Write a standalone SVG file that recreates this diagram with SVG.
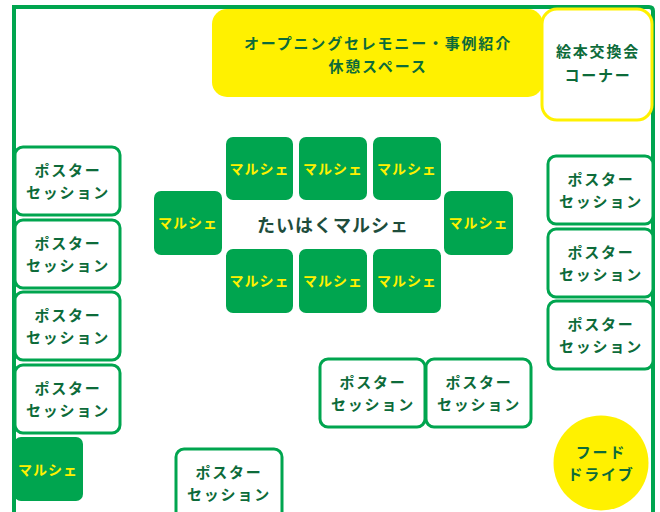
<svg xmlns="http://www.w3.org/2000/svg" width="660" height="512" viewBox="0 0 660 512">
<style>
text{font-family:"Noto Sans CJK JP","Noto Sans",sans-serif;font-weight:700;text-anchor:middle;dominant-baseline:central}
.t{fill:#0d6b3a;font-size:15px;letter-spacing:1.8px}
.poster rect{fill:#fff;stroke:#00a54f;stroke-width:3}
.m rect{fill:#00a54f}
.m text{fill:#fff100;font-size:14px;letter-spacing:1px}
.frame{fill:none;stroke:#00a54f;stroke-width:4}
</style>
<rect width="660" height="512" fill="#fff"/>
<path class="frame" d="M14,514 V7 H649 Q653,7 653,11 V514"/>
<g id="opening"><rect x="212" y="9" width="331" height="88" rx="15" fill="#fff100"/><text class="t" x="378" y="42.5">オープニングセレモニー・事例紹介</text><text class="t" x="378" y="65.5">休憩スペース</text></g>
<g id="ehon"><rect x="542" y="9" width="110" height="111" rx="15" fill="#fff" stroke="#fff100" stroke-width="3"/><text class="t" x="598" y="50.5">絵本交換会</text><text class="t" x="598" y="74.5">コーナー</text></g>
<g id="p-l1" class="poster"><rect x="15" y="147" width="105" height="68" rx="8"/><text class="t" x="68" y="169.5">ポスター</text><text class="t" x="68" y="191.5">セッション</text></g>
<g id="p-l2" class="poster"><rect x="15" y="220" width="105" height="68" rx="8"/><text class="t" x="68" y="242.5">ポスター</text><text class="t" x="68" y="264.5">セッション</text></g>
<g id="p-l3" class="poster"><rect x="15" y="292" width="105" height="68" rx="8"/><text class="t" x="68" y="314.5">ポスター</text><text class="t" x="68" y="336.5">セッション</text></g>
<g id="p-l4" class="poster"><rect x="15" y="365" width="105" height="68" rx="8"/><text class="t" x="68" y="387.5">ポスター</text><text class="t" x="68" y="409.5">セッション</text></g>
<g id="m-l" class="m"><rect x="14" y="437" width="69" height="64" rx="7"/><text x="48" y="469">マルシェ</text></g>
<g id="p-b" class="poster"><rect x="176" y="449" width="106" height="75" rx="8"/><text class="t" x="229" y="471.5">ポスター</text><text class="t" x="229" y="493.5">セッション</text></g>
<g id="p-r1" class="poster"><rect x="548" y="156" width="105" height="68" rx="8"/><text class="t" x="601" y="178.5">ポスター</text><text class="t" x="601" y="200.5">セッション</text></g>
<g id="p-r2" class="poster"><rect x="548" y="229" width="105" height="68" rx="8"/><text class="t" x="601" y="251.5">ポスター</text><text class="t" x="601" y="273.5">セッション</text></g>
<g id="p-r3" class="poster"><rect x="548" y="301" width="105" height="68" rx="8"/><text class="t" x="601" y="323.5">ポスター</text><text class="t" x="601" y="345.5">セッション</text></g>
<g id="p-m1" class="poster"><rect x="320" y="359" width="105" height="68" rx="8"/><text class="t" x="373" y="381.5">ポスター</text><text class="t" x="373" y="403.5">セッション</text></g>
<g id="p-m2" class="poster"><rect x="426" y="359" width="105" height="68" rx="8"/><text class="t" x="479" y="381.5">ポスター</text><text class="t" x="479" y="403.5">セッション</text></g>
<g id="m-t1" class="m"><rect x="226" y="137" width="67" height="63" rx="7"/><text x="259.5" y="168">マルシェ</text></g>
<g id="m-t2" class="m"><rect x="299" y="137" width="68" height="63" rx="7"/><text x="333" y="168">マルシェ</text></g>
<g id="m-t3" class="m"><rect x="373" y="137" width="68" height="63" rx="7"/><text x="407" y="168">マルシェ</text></g>
<g id="m-b1" class="m"><rect x="226" y="249" width="67" height="64" rx="7"/><text x="259.5" y="280">マルシェ</text></g>
<g id="m-b2" class="m"><rect x="299" y="249" width="68" height="64" rx="7"/><text x="333" y="280">マルシェ</text></g>
<g id="m-b3" class="m"><rect x="373" y="249" width="68" height="64" rx="7"/><text x="407" y="280">マルシェ</text></g>
<g id="m-cl" class="m"><rect x="154" y="191" width="68" height="64" rx="7"/><text x="188" y="222">マルシェ</text></g>
<g id="m-cr" class="m"><rect x="444" y="191" width="69" height="64" rx="7"/><text x="478.5" y="222">マルシェ</text></g>
<g id="center"><text x="333" y="224" fill="#1e4d3c" font-size="18" letter-spacing="1">たいはくマルシェ</text></g>
<g id="food"><circle cx="601" cy="463" r="47.5" fill="#fff100"/><text class="t" x="601" y="451.5">フード</text><text class="t" x="601" y="473.5">ドライブ</text></g>
<g id="connectors"/>
</svg>
